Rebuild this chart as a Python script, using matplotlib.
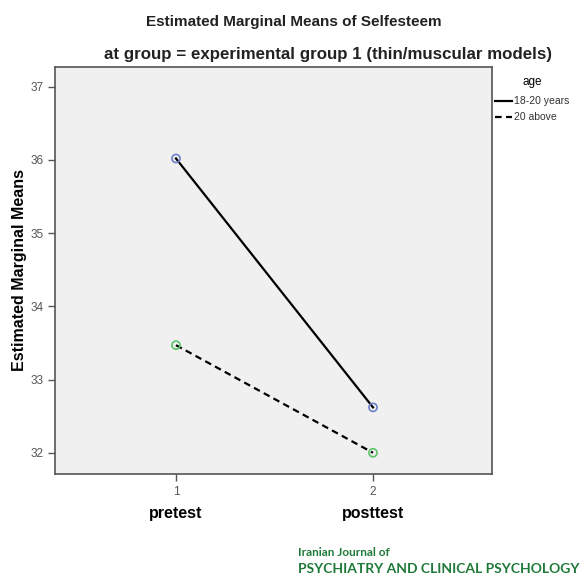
import matplotlib
matplotlib.use("Agg")
import matplotlib.pyplot as plt

# data
x_pos = [1, 2]
x_names = ["pretest", "posttest"]
age_18_20 = [36.02, 32.62]
age_20_above = [33.47, 32.00]
y_ticks = [32, 33, 34, 35, 36, 37]

plt.rcParams['font.family'] = ['Liberation Sans', 'DejaVu Sans']

fig = plt.figure(figsize=(5.82, 5.74), dpi=100)
W, H = 582, 574
ax = fig.add_axes([55 / W, 1 - 474 / H, (492 - 55) / W, (474 - 67) / H])
ax.set_facecolor('#f0f0f0')

ax.plot(x_pos, age_18_20, color='black', lw=1.6, ls='-', label='18-20 years', zorder=2)
ax.plot(x_pos, age_20_above, color='black', lw=1.6, ls=(0, (3, 2)), label='20 above', zorder=2)
ax.scatter(x_pos, age_18_20, s=34, facecolors='none', edgecolors='#6f7fc8', lw=1.2, zorder=3)
ax.scatter(x_pos, age_20_above, s=34, facecolors='none', edgecolors='#5cc46a', lw=1.2, zorder=3)

ax.set_xlim(0.386, 2.604)
ax.set_ylim(31.71, 37.27)
ax.set_xticks(x_pos)
ax.set_xticklabels([str(v) for v in x_pos])
ax.set_yticks(y_ticks)
ax.set_yticklabels([str(v) for v in y_ticks])
ax.tick_params(direction='out', length=5, width=1, color='#555555', labelsize=8.5, labelcolor='#555555')
for s in ax.spines.values():
    s.set_color('#555555')
    s.set_linewidth(1.2)

for xp, nm in zip(x_pos, x_names):
    ax.text(xp, -0.096, nm, transform=ax.get_xaxis_transform(), ha='center', va='center',
            fontsize=11.5, fontweight='bold')

ax.set_ylabel('Estimated Marginal Means', fontsize=11.5, fontweight='bold')
ax.yaxis.set_label_coords(-(55 - 27) / (492 - 55), (474 - 270) / (474 - 67))

fig.text(294 / W, 1 - 22 / H, 'Estimated Marginal Means of Selfesteem', ha='center', va='center',
         fontsize=11, fontweight='bold', color='#222222')
fig.text(328 / W, 1 - 55 / H, 'at group = experimental group 1 (thin/muscular models)', ha='center',
         va='center', fontsize=12.2, fontweight='bold', color='#222222')

leg = ax.legend(loc='upper left', bbox_to_anchor=(493 / W, 1 - 74 / H), bbox_transform=fig.transFigure,
                title='age', frameon=False, fontsize=7.5, title_fontsize=8.5, handlelength=1.6,
                handletextpad=0.2, borderaxespad=0, labelspacing=0.55, borderpad=0.2)
leg._legend_box.sep = 6
for t in leg.get_texts():
    t.set_color('#333333')

fig.text(298 / W, 1 - 553 / H, 'Iranian Journal of', ha='left', va='center', fontsize=8.5,
         color='#1f7a3a', family=['Lato', 'DejaVu Sans'], fontweight='bold')
fig.text(298 / W, 1 - 569 / H, 'PSYCHIATRY AND CLINICAL PSYCHOLOGY', ha='left', va='center',
         fontsize=10, color='#1f7a3a', family=['Lato', 'DejaVu Sans'], fontweight='bold')

fig.savefig('out.png', dpi=100)
